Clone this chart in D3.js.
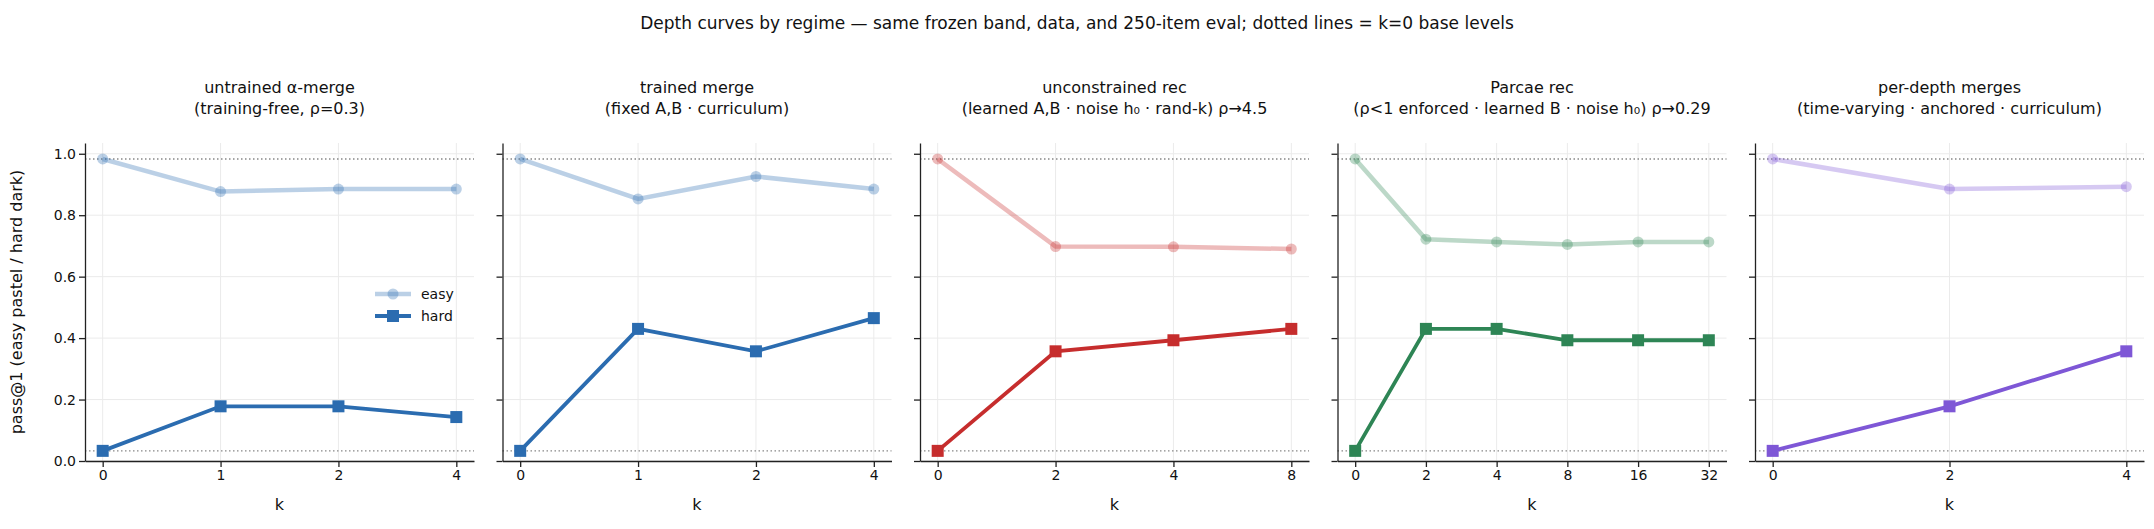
<!DOCTYPE html>
<html><head><meta charset="utf-8">
<script src="https://cdn.jsdelivr.net/npm/d3@7"></script>
<style>body{margin:0;background:#fff}text{font-family:"DejaVu Sans",sans-serif;fill:#111}</style>
</head><body><svg id="c" width="2154" height="529"></svg>
<script>
// panel data
var titles = [
  ["untrained \u03b1-merge", "(training-free, \u03c1=0.3)"],
  ["trained merge", "(fixed A,B \u00b7 curriculum)"],
  ["unconstrained rec", "(learned A,B \u00b7 noise h\u2080 \u00b7 rand-k) \u03c1\u21924.5"],
  ["Parcae rec", "(\u03c1<1 enforced \u00b7 learned B \u00b7 noise h\u2080) \u03c1\u21920.29"],
  ["per-depth merges", "(time-varying \u00b7 anchored \u00b7 curriculum)"]
];
var kLabels = [["0","1","2","4"], ["0","1","2","4"], ["0","2","4","8"], ["0","2","4","8","16","32"], ["0","2","4"]];
var easy = [
  [0.983, 0.877, 0.885, 0.885],
  [0.983, 0.853, 0.926, 0.885],
  [0.983, 0.698, 0.697, 0.690],
  [0.983, 0.722, 0.713, 0.705, 0.713, 0.713],
  [0.983, 0.885, 0.893]
];
var hard = [
  [0.033, 0.178, 0.178, 0.143],
  [0.033, 0.430, 0.357, 0.465],
  [0.033, 0.357, 0.393, 0.430],
  [0.033, 0.430, 0.430, 0.393, 0.393, 0.393],
  [0.033, 0.178, 0.357]
];
var colors = ["#2b6cb0", "#2b6cb0", "#c62d2d", "#2e8555", "#7e57d6"];
var baseEasy = 0.983, baseHard = 0.033;
var yTicks = [0, 0.2, 0.4, 0.6, 0.8, 1.0];

var svg = d3.select("#c");
var yTop = 143, yBot = 461, W = 389;

svg.append("text").attr("x", 1077).attr("y", 29).attr("text-anchor", "middle")
  .style("font-size", "17px").text("Depth curves by regime \u2014 same frozen band, data, and 250-item eval; dotted lines = k=0 base levels");

var y = d3.scaleLinear().domain([0, 1.035]).range([yBot, yTop]);

function styleAxis(s) {
  s.select(".domain").attr("stroke", "#222").attr("stroke-width", 1.3);
  s.selectAll("line").attr("stroke", "#222").attr("stroke-width", 1.3);
  s.selectAll("text").style("font-size", "14px").attr("fill", "#111");
}

titles.forEach(function(t, i) {
  var left = 85 + i * 417.5;
  var g = svg.append("g").attr("transform", "translate(" + left + ",0)");
  var n = kLabels[i].length;
  // matplotlib-style 5% margin on the index axis
  var x = d3.scaleLinear().domain([-0.05 * (n - 1), (n - 1) * 1.05]).range([0, W]);

  // grid
  g.selectAll(".gy").data(yTicks).enter().append("line")
    .attr("x1", 0).attr("x2", W).attr("y1", y).attr("y2", y).attr("stroke", "#ebebeb");
  g.selectAll(".gx").data(d3.range(n)).enter().append("line")
    .attr("x1", x).attr("x2", x).attr("y1", yTop).attr("y2", yBot).attr("stroke", "#ebebeb");

  // base levels
  [baseEasy, baseHard].forEach(function(b) {
    g.append("line").attr("x1", 0).attr("x2", W).attr("y1", y(b)).attr("y2", y(b))
      .attr("stroke", "#888").attr("stroke-width", 1.3).attr("stroke-dasharray", "1.5,2.5");
  });

  // axes
  var ya = d3.axisLeft(y).tickValues(yTicks).tickSize(6).tickSizeOuter(0).tickFormat(i === 0 ? d3.format(".1f") : "");
  g.append("g").call(ya).call(styleAxis);
  var xa = d3.axisBottom(x).tickValues(d3.range(n)).tickSize(6).tickSizeOuter(0).tickFormat(function(d) { return kLabels[i][d]; });
  g.append("g").attr("transform", "translate(0," + yBot + ")").call(xa).call(styleAxis);
  g.append("text").attr("x", W / 2).attr("y", 510).attr("text-anchor", "middle").style("font-size", "16px").text("k");

  g.append("text").attr("x", W / 2).attr("y", 93).attr("text-anchor", "middle").style("font-size", "16px").text(t[0]);
  g.append("text").attr("x", W / 2).attr("y", 114).attr("text-anchor", "middle").style("font-size", "16px").text(t[1]);

  var line = d3.line().x(function(d, j) { return x(j); }).y(function(d) { return y(d); });
  var c = colors[i];

  g.append("path").datum(easy[i]).attr("d", line).attr("fill", "none")
    .attr("stroke", c).attr("stroke-opacity", 0.32).attr("stroke-width", 4.5);
  g.selectAll(".pe").data(easy[i]).enter().append("circle")
    .attr("cx", function(d, j) { return x(j); }).attr("cy", y).attr("r", 5.5)
    .attr("fill", c).attr("fill-opacity", 0.32);

  g.append("path").datum(hard[i]).attr("d", line).attr("fill", "none")
    .attr("stroke", c).attr("stroke-width", 3.8);
  g.selectAll(".ph").data(hard[i]).enter().append("rect")
    .attr("x", function(d, j) { return x(j) - 6; }).attr("y", function(d) { return y(d) - 6; })
    .attr("width", 12).attr("height", 12).attr("fill", c);

  if (i === 0) {
    var lg = g.append("g").attr("transform", "translate(290,0)");
    lg.append("line").attr("x1", 0).attr("x2", 36).attr("y1", 294).attr("y2", 294)
      .attr("stroke", c).attr("stroke-opacity", 0.32).attr("stroke-width", 4.5);
    lg.append("circle").attr("cx", 18).attr("cy", 294).attr("r", 5.5).attr("fill", c).attr("fill-opacity", 0.32);
    lg.append("text").attr("x", 46).attr("y", 299).style("font-size", "14px").text("easy");
    lg.append("line").attr("x1", 0).attr("x2", 36).attr("y1", 316).attr("y2", 316)
      .attr("stroke", c).attr("stroke-width", 3.8);
    lg.append("rect").attr("x", 12).attr("y", 310).attr("width", 12).attr("height", 12).attr("fill", c);
    lg.append("text").attr("x", 46).attr("y", 321).style("font-size", "14px").text("hard");
  }
});

svg.append("text").attr("transform", "translate(22," + ((yTop + yBot) / 2) + ") rotate(-90)")
  .attr("text-anchor", "middle").style("font-size", "16px").text("pass@1 (easy pastel / hard dark)");
</script></body></html>
